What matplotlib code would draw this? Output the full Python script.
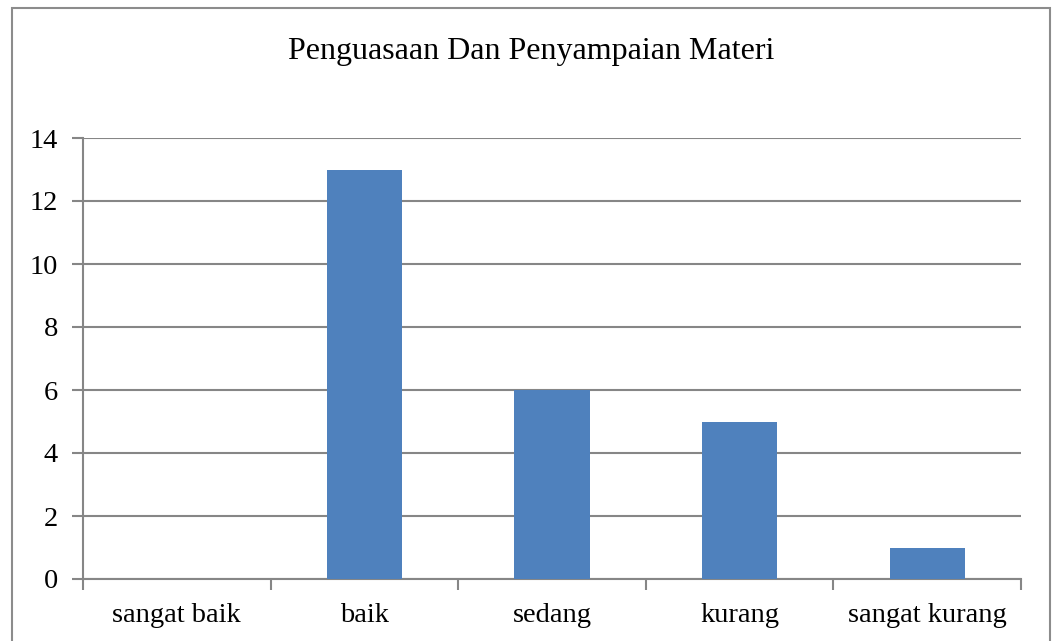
import matplotlib.pyplot as plt
from matplotlib.patches import Rectangle
from matplotlib.ticker import FixedLocator

categories = ['sangat baik', 'baik', 'sedang', 'kurang', 'sangat kurang']
values = [0, 13, 6, 5, 1]
title = 'Penguasaan Dan Penyampaian Materi'

plt.rcParams['font.family'] = ['Liberation Serif', 'DejaVu Serif']
grey = '#868686'

fig = plt.figure(figsize=(10.57, 6.41), dpi=100)
ax = fig.add_axes([83 / 1057, 1 - 579 / 641, (1021 - 83) / 1057, (579 - 138) / 641])

x = list(range(len(categories)))
ax.bar(x, values, width=0.4, color='#4F81BD', zorder=3)

ax.set_xlim(-0.5, len(categories) - 0.5)
ax.set_ylim(0, 14)
ax.set_yticks(range(0, 15, 2))
ax.set_xticks(x)
ax.set_xticklabels(categories)
ax.xaxis.set_minor_locator(FixedLocator([i - 0.5 for i in range(len(categories) + 1)]))

ax.tick_params(axis='x', which='major', length=0, pad=17, labelsize=20.5)
ax.tick_params(axis='x', which='minor', length=8, width=1.5, color=grey, direction='out')
ax.tick_params(axis='y', length=8, width=1.5, color=grey, pad=10, labelsize=20.5)

ax.yaxis.grid(True, color=grey, linewidth=1.5, zorder=0)
for side in ['top', 'right']:
    ax.spines[side].set_visible(False)
for side in ['left', 'bottom']:
    ax.spines[side].set_color(grey)
    ax.spines[side].set_linewidth(1.5)

fig.text(531 / 1057, 1 - 52 / 641, title, ha='center', va='center', fontsize=23)

# outer chart border
fig.patches.append(Rectangle((12 / 1057, -0.05), (1050 - 12) / 1057, 1.05 - 8 / 641,
                             transform=fig.transFigure, fill=False,
                             edgecolor='#8c8c8c', linewidth=1.5))

fig.savefig('out.png', dpi=100)
